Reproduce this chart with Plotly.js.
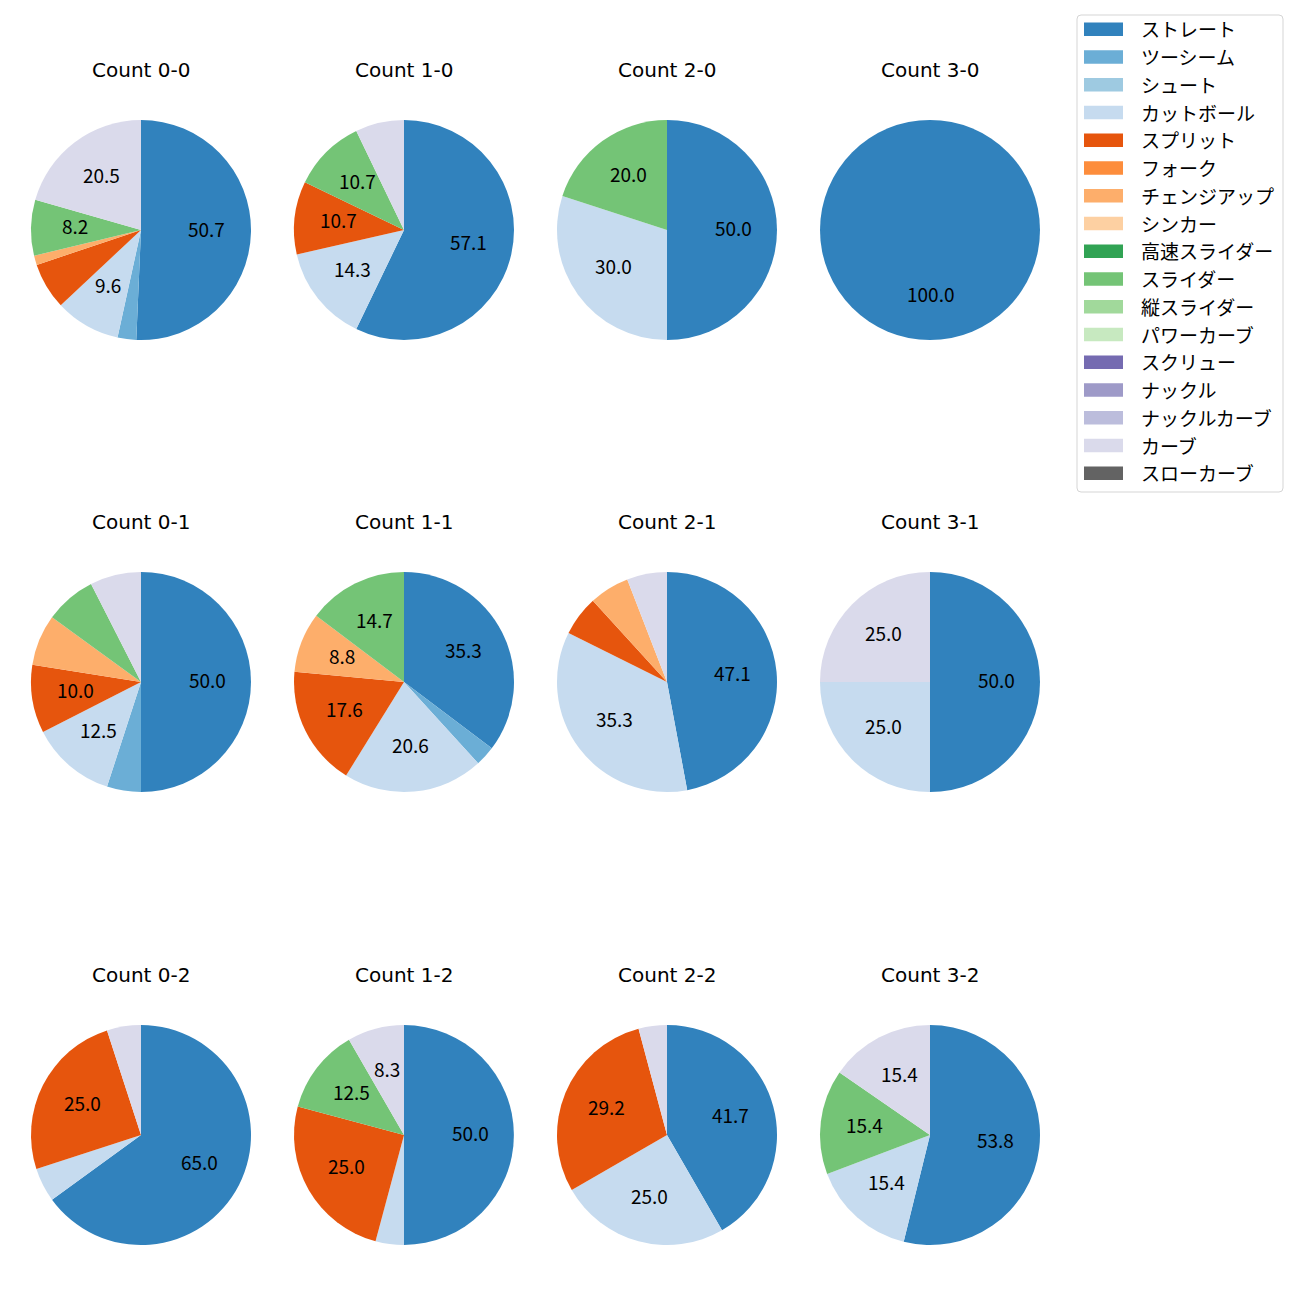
<!DOCTYPE html>
<html><head><meta charset="utf-8">
<script src="https://cdn.plot.ly/plotly-3.0.1.min.js"></script>
<style>body{margin:0;background:#fff}</style>
</head><body><div id="chart" style="width:1300px;height:1300px"></div>
<script>
// ---- data ----
const pitchTypes = ['ストレート','ツーシーム','シュート','カットボール','スプリット','フォーク','チェンジアップ','シンカー','高速スライダー','スライダー','縦スライダー','パワーカーブ','スクリュー','ナックル','ナックルカーブ','カーブ','スローカーブ'];
const pitchColors = ['#3182bd','#6baed6','#9ecae1','#c6dbef','#e6550d','#fd8d3c','#fdae6b','#fdd0a2','#31a354','#74c476','#a1d99b','#c7e9c0','#756bb1','#9e9ac8','#bcbddc','#dadaeb','#636363'];
const countLabels = ['0-0','1-0','2-0','3-0','0-1','1-1','2-1','3-1','0-2','1-2','2-2','3-2'];
// pitch counts per type (same order as pitchTypes)
const count_0_0 = [37,2,0,7,5,0,1,0,0,6,0,0,0,0,0,15,0];
const count_1_0 = [16,0,0,4,3,0,0,0,0,3,0,0,0,0,0,2,0];
const count_2_0 = [5,0,0,3,0,0,0,0,0,2,0,0,0,0,0,0,0];
const count_3_0 = [1,0,0,0,0,0,0,0,0,0,0,0,0,0,0,0,0];
const count_0_1 = [20,2,0,5,4,0,3,0,0,3,0,0,0,0,0,3,0];
const count_1_1 = [12,1,0,7,6,0,3,0,0,5,0,0,0,0,0,0,0];
const count_2_1 = [8,0,0,6,1,0,1,0,0,0,0,0,0,0,0,1,0];
const count_3_1 = [2,0,0,1,0,0,0,0,0,0,0,0,0,0,0,1,0];
const count_0_2 = [13,0,0,1,5,0,0,0,0,0,0,0,0,0,0,1,0];
const count_1_2 = [12,0,0,1,6,0,0,0,0,3,0,0,0,0,0,2,0];
const count_2_2 = [10,0,0,6,7,0,0,0,0,0,0,0,0,0,0,1,0];
const count_3_2 = [7,0,0,2,0,0,0,0,0,2,0,0,0,0,0,2,0];
const countValues = [count_0_0,count_1_0,count_2_0,count_3_0,count_0_1,count_1_1,count_2_1,count_3_1,count_0_2,count_1_2,count_2_2,count_3_2];

// ---- layout constants ----
const W = 1300, H = 1300;
const colCenters = [141, 404, 667, 930];
const rowCenters = [230, 682, 1135];
const R = 110;
const FONT = '"Noto Sans CJK JP", "Noto Sans", sans-serif';
const TITLE_FONT = '"DejaVu Sans", sans-serif';
const px = x => x / W;
const py = y => 1 - y / H;

const traces = [];
const annotations = [];
const shapes = [];

countValues.forEach((vals, k) => {
  const cx = colCenters[k % 4], cy = rowCenters[Math.floor(k / 4)];
  traces.push({
    type: 'pie',
    labels: pitchTypes,
    values: vals,
    marker: {colors: pitchColors, line: {width: 0}},
    sort: false,
    direction: 'clockwise',
    rotation: 0,
    textinfo: 'none',
    hoverinfo: 'skip',
    showlegend: false,
    domain: {x: [px(cx - R), px(cx + R)], y: [py(cy + R), py(cy - R)]}
  });
  // title
  annotations.push({
    text: 'Count ' + countLabels[k], x: px(cx), y: py(cy - 160),
    xref: 'paper', yref: 'paper', xanchor: 'center', yanchor: 'middle',
    showarrow: false, font: {family: TITLE_FONT, size: 20, color: '#000'}
  });
  // percentage labels (autopct style at 0.6 radius)
  const total = vals.reduce((a, b) => a + b, 0);
  let cum = 0;
  vals.forEach(v => {
    if (v > 0) {
      const pct = v / total * 100;
      const f = (cum + v / 2) / total;
      const th = (90 - f * 360) * Math.PI / 180;
      if (pct >= 8) {
        annotations.push({
          text: pct.toFixed(1),
          x: px(cx + 0.6 * R * Math.cos(th)), y: py(cy - 0.6 * R * Math.sin(th) - 3),
          xref: 'paper', yref: 'paper', xanchor: 'center', yanchor: 'middle',
          showarrow: false, font: {family: FONT, size: 19, color: '#000'}
        });
      }
    }
    cum += v;
  });
});

// ---- legend (matplotlib style) ----
const lgX0 = 1077, lgX1 = 1283, lgY0 = 15, lgY1 = 492, rr = 4;
shapes.push({
  type: 'path', xref: 'paper', yref: 'paper',
  path: `M ${px(lgX0+rr)} ${py(lgY0)} L ${px(lgX1-rr)} ${py(lgY0)} Q ${px(lgX1)} ${py(lgY0)} ${px(lgX1)} ${py(lgY0+rr)} L ${px(lgX1)} ${py(lgY1-rr)} Q ${px(lgX1)} ${py(lgY1)} ${px(lgX1-rr)} ${py(lgY1)} L ${px(lgX0+rr)} ${py(lgY1)} Q ${px(lgX0)} ${py(lgY1)} ${px(lgX0)} ${py(lgY1-rr)} L ${px(lgX0)} ${py(lgY0+rr)} Q ${px(lgX0)} ${py(lgY0)} ${px(lgX0+rr)} ${py(lgY0)} Z`,
  line: {color: '#d5d5d5', width: 1}, fillcolor: 'rgba(255,255,255,0.8)', layer: 'above'
});
pitchTypes.forEach((name, i) => {
  const yc = 29.3 + i * 27.75;
  shapes.push({
    type: 'rect', xref: 'paper', yref: 'paper',
    x0: px(1084), x1: px(1123), y0: py(yc - 6.7), y1: py(yc + 6.7),
    fillcolor: pitchColors[i], line: {width: 0}, layer: 'above'
  });
  annotations.push({
    text: name, x: px(1139), y: py(yc - 0.5), xref: 'paper', yref: 'paper',
    xanchor: 'left', yanchor: 'middle', showarrow: false,
    font: {family: FONT, size: 19, color: '#000'}
  });
});

const layout = {
  width: W, height: H,
  margin: {l: 0, r: 0, t: 0, b: 0},
  paper_bgcolor: '#fff',
  showlegend: false,
  annotations, shapes
};
Plotly.newPlot('chart', traces, layout, {staticPlot: true});
</script>
</body></html>
